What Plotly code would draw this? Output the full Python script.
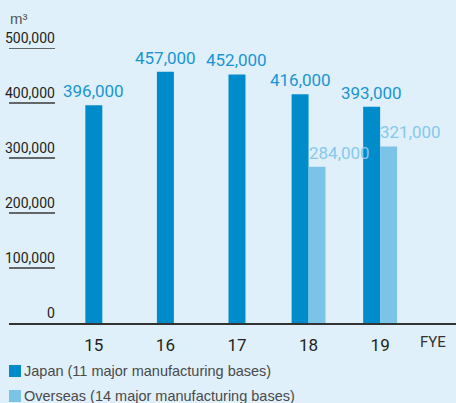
import plotly.graph_objects as go

# --- data ---
years = [15, 16, 17, 18, 19]
japan = [396000, 457000, 452000, 416000, 393000]
overseas = [None, None, None, 284000, 321000]
y_ticks = [100000, 200000, 300000, 400000, 500000]
legend_names = ["Japan (11 major manufacturing bases)", "Overseas (14 major manufacturing bases)"]

JAPAN_BAR = "#008BCB"
JAPAN_TXT = "#1A95D3"
OVER_BAR = "#7CC3E8"
OVER_TXT = "#86C8EC"
BG = "#DFF0FA"
DARK = "#231F20"
COND = "Roboto"

W = 0.237  # bar width in x units
# japan bar sits left of the tick when an overseas bar stands next to it
jp_offset = [-W if o is not None else -W / 2 for o in overseas]

fig = go.Figure()
fig.add_trace(go.Bar(x=years, y=japan, width=W, offset=jp_offset,
                     marker=dict(color=JAPAN_BAR, line_width=0), name=legend_names[0]))
fig.add_trace(go.Bar(x=years, y=overseas, width=W, offset=0,
                     marker=dict(color=OVER_BAR, line_width=0), name=legend_names[1]))

# pixel helpers for paper coordinates
ML, MT, MB = 9, 48, 80
PW, PH = 456 - ML, 403 - MT - MB
def px(x):
    return (x - ML) / PW
def py(y):
    return (403 - MB - y) / PH

ann, shapes = [], []
# value labels
for yr, v, off in zip(years, japan, jp_offset):
    ann.append(dict(x=yr + off + W / 2, y=v, xref="x", yref="y", text=f"{v:,}",
                    showarrow=False, xanchor="center", yanchor="bottom", yshift=2,
                    font=dict(size=17, color=JAPAN_TXT, family=COND)))
for yr, v in zip(years, overseas):
    if v is None:
        continue
    ann.append(dict(x=yr, y=v, xref="x", yref="y", text=f"{v:,}",
                    showarrow=False, xanchor="left", yanchor="bottom", yshift=2, xshift=-2,
                    font=dict(size=17, color=OVER_TXT, family=COND)))

# y labels sitting on short rules
for t in [0] + y_ticks:
    ann.append(dict(x=px(57), y=t, xref="paper", yref="y", text=f"{t:,}",
                    showarrow=False, xanchor="right", yanchor="bottom",
                    font=dict(size=14, color=DARK, family=COND)))
    if t:
        shapes.append(dict(type="line", xref="paper", yref="y", x0=px(9), x1=px(55), y0=t, y1=t,
                           line=dict(color="#3a3a3a", width=1.5)))

ann.append(dict(x=px(8), y=py(29), xref="paper", yref="paper", text="m³", showarrow=False,
                xanchor="left", yanchor="bottom",
                font=dict(family="Liberation Sans", size=15, color="#555555")))
ann.append(dict(x=px(448), y=py(342), xref="paper", yref="paper", text="FYE",
                showarrow=False, xanchor="right", yanchor="middle",
                font=dict(size=15, color="#333333", family=COND)))

# legend
for i, (name, col) in enumerate(zip(legend_names, [JAPAN_BAR, OVER_BAR])):
    yc = 371 + 25 * i
    shapes.append(dict(type="rect", xref="paper", yref="paper",
                       x0=px(9), x1=px(21), y0=py(yc + 6), y1=py(yc - 6),
                       fillcolor=col, line_width=0))
    ann.append(dict(x=px(22), y=py(yc), xref="paper", yref="paper", text=name,
                    showarrow=False, xanchor="left", yanchor="middle",
                    font=dict(family="Liberation Sans", size=14.5, color="#4A4A4A")))

fig.update_layout(
    width=456, height=403,
    margin=dict(l=ML, r=0, t=MT, b=MB),
    paper_bgcolor=BG, plot_bgcolor=BG,
    showlegend=False, barmode="overlay",
    xaxis=dict(range=[13.815, 20.06], tickvals=years, ticktext=[str(y) for y in years],
               showgrid=False, zeroline=False, showline=True, linecolor="#333333", linewidth=1.5,
               ticks="outside", ticklen=6, tickcolor="rgba(0,0,0,0)",
               tickfont=dict(size=17, color=DARK, family=COND)),
    yaxis=dict(range=[0, 500000], showgrid=False, zeroline=False, showticklabels=False,
               showline=False),
    annotations=ann, shapes=shapes,
)

fig.write_html("out.html", config={"displayModeBar": False},
               post_script="document.body.style.margin='0';")
